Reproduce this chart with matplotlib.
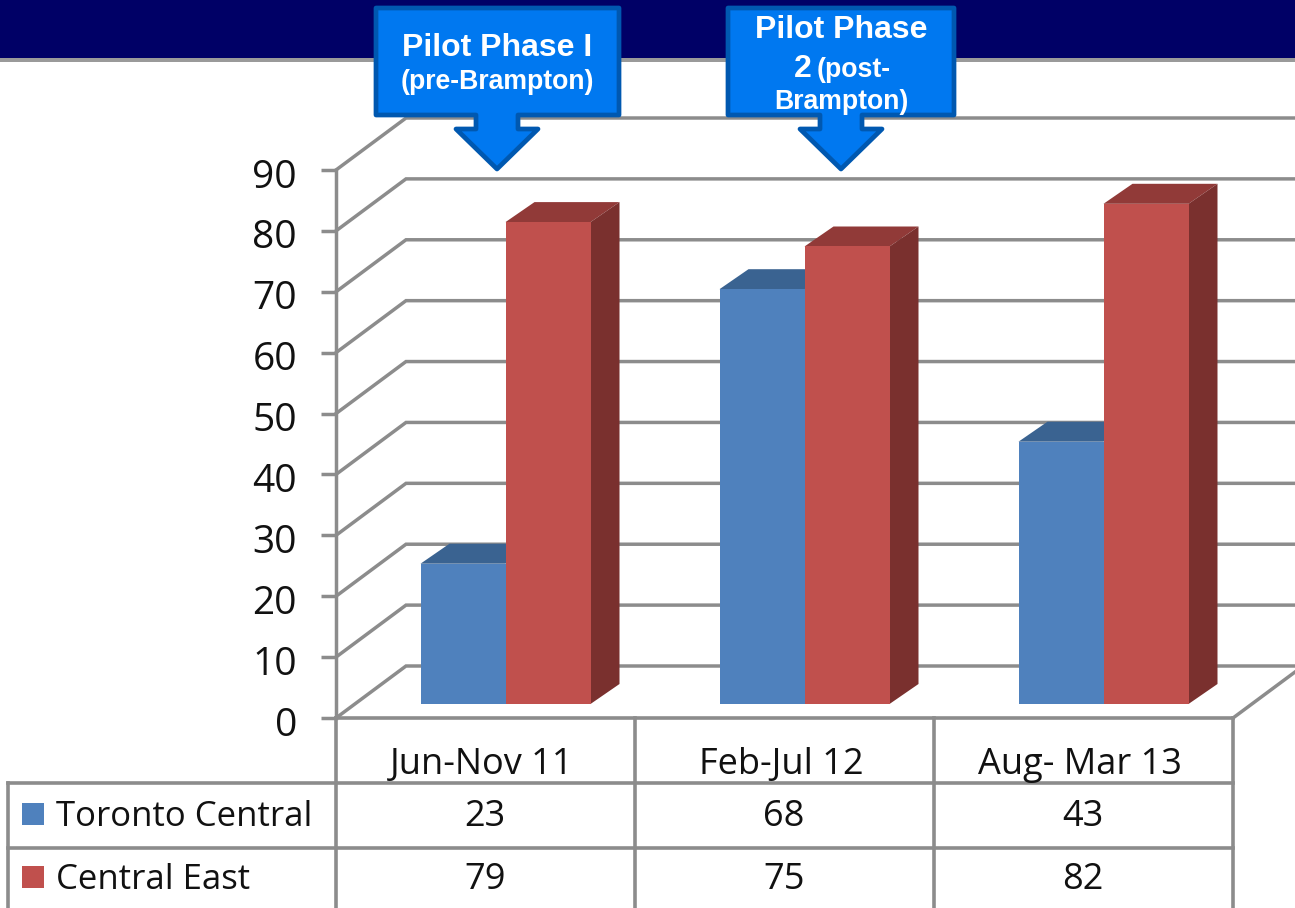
import matplotlib
matplotlib.use("Agg")
import matplotlib.pyplot as plt
from matplotlib.patches import Polygon, Rectangle
from matplotlib.transforms import ScaledTranslation

W, H = 1295, 908

periods = ["Jun-Nov 11", "Feb-Jul 12", "Aug- Mar 13"]
toronto = [23, 68, 43]
central_east = [79, 75, 82]
yticks = [0, 10, 20, 30, 40, 50, 60, 70, 80, 90]

navy = "#000066"
grid = "#8c8c8c"
blue, blue_top = "#4f81bd", "#3a6391"
red, red_top, red_side = "#c0504d", "#913a38", "#7a302e"
call_fill, call_edge = "#0078f0", "#0058b0"
chart_font = "Open Sans"
call_font = "Liberation Sans"


def px_axes(zorder):
    a = fig.add_axes([0, 0, 1, 1], zorder=zorder)
    a.set_xlim(0, W)
    a.set_ylim(H, 0)
    a.axis("off")
    a.patch.set_alpha(0)
    return a


def rect_from_px(left, right, top, bottom):
    return [left / W, 1 - bottom / H, (right - left) / W, (bottom - top) / H]


def callout(a, left, right, cx):
    pts = [(left, 8), (right, 8), (right, 115), (cx + 21, 115), (cx + 21, 129),
           (cx + 41, 129), (cx, 169), (cx - 41, 129), (cx - 21, 129), (cx - 21, 115),
           (left, 115)]
    a.add_patch(Polygon(pts, closed=True, fc=call_fill, ec=call_edge, lw=3.4, joinstyle="round"))


fig = plt.figure(figsize=(W / 100, H / 100), dpi=100)

bg = px_axes(1)
bg.add_patch(Rectangle((0, 0), W, 58, fc=navy, ec="none"))
bg.add_patch(Rectangle((0, 58), W, 4, fc="#9a9a9a", ec="none"))

# front plane: value axis with ticks
ax = fig.add_axes(rect_from_px(336, 1233, 170, 718), zorder=2)
ax.patch.set_alpha(0)
ax.set_xlim(-0.5, 2.5)
ax.set_ylim(0, 90)
ax.set_yticks(yticks)
ax.set_xticks([])
for s in ["top", "right", "bottom"]:
    ax.spines[s].set_visible(False)
ax.spines["left"].set_color(grid)
ax.spines["left"].set_linewidth(2.5)
ax.tick_params(axis="y", length=11, width=2.5, color=grid, pad=17, labelsize=28, labelcolor="#111111")
shift = ScaledTranslation(0, -3 / 100, fig.dpi_scale_trans)
for t in ax.get_yticklabels():
    t.set_fontfamily(chart_font)
    t.set_transform(t.get_transform() + shift)

# back wall and side wall lines
y_scale = (718 - 170) / 90
for v in yticks:
    y = 718 - v * y_scale
    bg.plot([336, 406, W], [y, y - 52, y - 52], color=grid, lw=2.5, solid_joinstyle="miter")
bg.plot([1233, W], [718, 672], color=grid, lw=2.5)

# table
for x in [336, 635, 934, 1233]:
    bg.plot([x, x], [718, H], color=grid, lw=2.6)
bg.plot([336, 1233], [718, 718], color=grid, lw=2.6)
for y in [783, 848]:
    bg.plot([8, 1233], [y, y], color=grid, lw=2.6)
bg.plot([8, 8], [783, H], color=grid, lw=2.6)

# bars
bars = fig.add_axes(rect_from_px(356, 1253, 155, 704), zorder=3)
bars.patch.set_alpha(0)
bars.set_xlim(-0.5, 2.5)
bars.set_ylim(0, 90)
bars.axis("off")
width = 85 / 299
dx = 29 / 299
dy = 20 / (549 / 90)
for i in range(len(periods)):
    bars.bar(i - width / 2, toronto[i], width, color=blue, zorder=2)
    bars.add_patch(Polygon([(i - width, toronto[i]), (i - width + dx, toronto[i] + dy),
                            (i + dx, toronto[i] + dy), (i, toronto[i])],
                           fc=blue_top, ec="none", zorder=1, clip_on=False))
    bars.bar(i + width / 2, central_east[i], width, color=red, zorder=4)
    bars.add_patch(Polygon([(i, central_east[i]), (i + dx, central_east[i] + dy),
                            (i + width + dx, central_east[i] + dy), (i + width, central_east[i])],
                           fc=red_top, ec="none", zorder=3, clip_on=False))
    bars.add_patch(Polygon([(i + width, 0), (i + width + dx, dy),
                            (i + width + dx, central_east[i] + dy), (i + width, central_east[i])],
                           fc=red_side, ec="none", zorder=3, clip_on=False))

# table text
top = px_axes(4)
txt = dict(family=chart_font, fontsize=26, color="#111111", ha="center", va="center")
for i, p in enumerate(periods):
    cx = 485 + 299 * i
    top.text(cx - 3, 765, p, **txt)
    top.text(cx, 817, str(toronto[i]), **txt)
    top.text(cx, 880, str(central_east[i]), **txt)
top.add_patch(Rectangle((22, 803), 22, 22, fc=blue, ec="none"))
top.add_patch(Rectangle((22, 866), 22, 22, fc=red, ec="none"))
top.text(56, 817, "Toronto Central", family=chart_font, fontsize=25, color="#111111", va="center")
top.text(56, 880, "Central East", family=chart_font, fontsize=25, color="#111111", va="center")

# callouts
callout(top, 376, 619, 497)
callout(top, 728, 954, 841)
head = dict(family=call_font, weight="bold", color="white", ha="center", va="center")
top.text(497, 48.5, "Pilot Phase I", fontsize=23, **head)
top.text(497, 82, "(pre-Brampton)", fontsize=19.2, **head)
top.text(841, 30, "Pilot Phase", fontsize=23, **head)
top.text(803, 69, "2", fontsize=23, **head)
top.text(854, 70, "(post-", fontsize=19.2, **head)
top.text(841, 102, "Brampton)", fontsize=19.2, **head)

fig.savefig("out.png", dpi=100)
